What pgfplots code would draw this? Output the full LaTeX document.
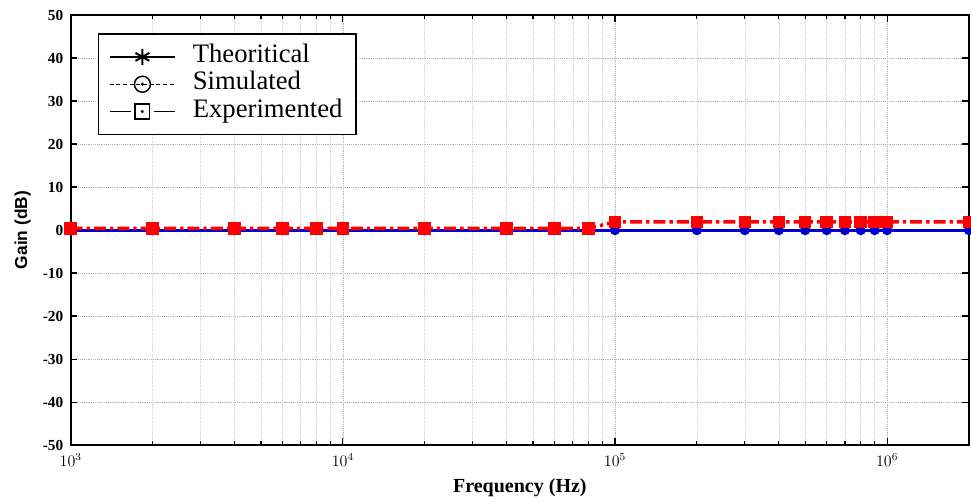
\documentclass[border=0pt]{standalone}
\usepackage{pgfplots}
\pgfplotsset{compat=1.18}
\usepackage{fontspec}
\setmainfont{Liberation Serif}
\setsansfont{Liberation Sans}
\begin{document}
\begin{tikzpicture}
\begin{axis}[
  scale only axis,
  width=673.5pt, height=322.5pt,
  xmode=log,
  xmin=1000, xmax=2000000,
  ymin=-50, ymax=50,
  ytick={-50,-40,...,50},
  xtick={1000,10000,100000,1000000},
  grid=both,
  major grid style={gray!60, densely dotted},
  minor grid style={gray!35, densely dotted},
  tick align=inside,
  axis line style={line width=1.5pt},
  tick style={black, line width=0.9pt},
  major tick length=5pt, minor tick length=3pt,
  ticklabel style={font=\fontsize{11.5}{12}\selectfont\bfseries},
  yticklabel style={xshift=-2pt},
  xticklabel style={yshift=-3pt},
  /pgf/number format/assume math mode=true,
  xlabel={\textbf{Frequency (Hz)}},
  ylabel={\sffamily\bfseries Gain (dB)},
  xlabel style={font=\fontsize{15}{16}\selectfont, at={(rel axis cs:0.5,0)}, anchor=center, yshift=-32pt},
  ylabel style={font=\fontsize{13}{14}\selectfont, at={(rel axis cs:0,0.5)}, anchor=center, yshift=36pt},
  legend style={at={(0.03,0.958)}, anchor=north west, draw=black, line width=1.2pt,
    font=\fontsize{20}{20}\selectfont, row sep=0pt, inner xsep=8pt, inner ysep=7pt,
    nodes={inner ysep=0pt, text height=14.5pt, text depth=6pt}},
  legend cell align=left,
  legend image code/.code={\draw[mark repeat=2,mark phase=2,#1] plot coordinates {(0cm,0cm) (0.86cm,0cm) (1.72cm,0cm)}; \fill[black] (0.86cm,0cm) circle (0.6pt); \path (2.1cm,0cm);},
]
\addlegendimage{black, line width=1pt, solid, mark=asterisk, mark size=6pt, mark options={solid, line width=1.5pt}}
\addlegendentry{Theoritical}
\addlegendimage{black, line width=1pt, dash pattern=on 3pt off 2pt, mark=o, mark size=6pt, mark options={solid, line width=1.1pt}}
\addlegendentry{Simulated}
\addlegendimage{black, line width=1pt, dash pattern=on 16pt off 17pt, mark=square, mark size=5.5pt, mark options={solid, line width=1.1pt}}
\addlegendentry{Experimented}
\addplot[forget plot, black, line width=1.5pt, mark=asterisk, mark size=3pt, mark options={solid}] coordinates {
(1000,0)(2000,0)(4000,0)(6000,0)(8000,0)(10000,0)(20000,0)(40000,0)(60000,0)(80000,0)
(100000,0)(200000,0)(300000,0)(400000,0)(500000,0)(600000,0)(700000,0)(800000,0)(900000,0)(1000000,0)(2000000,0)};
\addplot[forget plot, blue!80!black, line width=2.2pt, mark=*, mark size=2.7pt, mark options={solid, fill=blue!80!black}] coordinates {
(1000,0)(2000,0)(4000,0)(6000,0)(8000,0)(10000,0)(20000,0)(40000,0)(60000,0)(80000,0)
(100000,0)(200000,0)(300000,0)(400000,0)(500000,0)(600000,0)(700000,0)(800000,0)(900000,0)(1000000,0)(2000000,0)};
\addplot[forget plot, red, line width=2.6pt, dash pattern=on 9pt off 3pt on 2.5pt off 3pt, mark=square*, mark size=3.4pt, mark options={solid, fill=red}] coordinates {
(1000,0.4)(2000,0.4)(4000,0.4)(6000,0.4)(8000,0.4)(10000,0.4)(20000,0.4)(40000,0.4)(60000,0.4)(80000,0.4)
(100000,1.9)(200000,1.9)(300000,1.9)(400000,1.9)(500000,1.9)(600000,1.9)(700000,1.9)(800000,1.9)(900000,1.9)(1000000,1.9)(2000000,1.9)};
\coordinate (SW) at (rel axis cs:0,0);
\coordinate (NE) at (rel axis cs:1,1);
\end{axis}
\path (SW) ++(-53pt,-42pt) coordinate (A);
\path (NE) ++(1.5pt,11.25pt) coordinate (B);
\pgfresetboundingbox
\path[use as bounding box] (A) rectangle (B);
\end{tikzpicture}
\end{document}
